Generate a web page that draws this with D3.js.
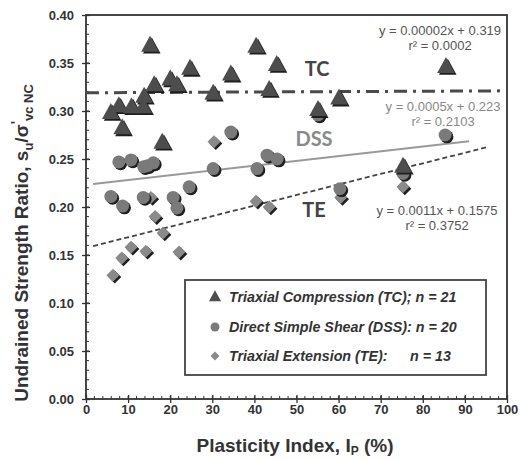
<!DOCTYPE html>
<html>
<head>
<meta charset="utf-8">
<script src="https://cdn.jsdelivr.net/npm/d3@7"></script>
<style>
  body { margin: 0; background: #fff; }
  text { font-family: Arial, "Liberation Sans", sans-serif; }
</style>
</head>
<body>
<svg id="chart" width="521" height="459"></svg>
<script>
// Triaxial compression (TC): plasticity index, strength ratio
const tcIP  = [5.9, 7.8, 8.6, 10.8, 13.6, 13.8, 15.2, 16.2, 18.1, 20.0, 21.6, 24.7, 30.2, 34.4, 40.4, 45.3, 43.5, 60.1, 85.5, 75.3, 55.1];
const tcSu  = [0.298, 0.305, 0.282, 0.304, 0.304, 0.315, 0.368, 0.327, 0.267, 0.333, 0.327, 0.344, 0.318, 0.338, 0.367, 0.348, 0.322, 0.313, 0.346, 0.242, 0.301];

// Direct simple shear (DSS)
const dssIP = [7.8, 10.7, 13.7, 14.6, 16.0, 5.9, 8.7, 13.6, 20.7, 21.6, 24.5, 30.2, 40.6, 43.0, 45.4, 34.4, 55.1, 60.3, 85.3, 75.3];
const dssSu = [0.247, 0.249, 0.242, 0.243, 0.246, 0.211, 0.201, 0.210, 0.210, 0.199, 0.221, 0.240, 0.240, 0.254, 0.250, 0.278, 0.296, 0.219, 0.275, 0.235];

// Triaxial extension (TE)
const teIP  = [6.4, 8.5, 10.7, 14.2, 15.4, 16.4, 18.3, 22.1, 30.4, 40.4, 43.5, 60.5, 75.3];
const teSu  = [0.129, 0.147, 0.158, 0.154, 0.210, 0.190, 0.173, 0.153, 0.268, 0.206, 0.200, 0.210, 0.221];

// Linear fits: slope, intercept, drawn x-extent
const fitNames  = ["TC", "DSS", "TE"];
const fitSlope  = [0.00002, 0.0005, 0.0011];
const fitInter  = [0.319, 0.223, 0.1575];
const fitFrom   = [0, 1.7, 1.7];
const fitTo     = [100, 91, 95];
const fitEq     = ["y = 0.00002x + 0.319", "y = 0.0005x + 0.223", "y = 0.0011x + 0.1575"];
const fitR2     = ["r² = 0.0002", "r² = 0.2103", "r² = 0.3752"];

const xTicks = [0, 10, 20, 30, 40, 50, 60, 70, 80, 90, 100];
const yTicks = [0, 0.05, 0.10, 0.15, 0.20, 0.25, 0.30, 0.35, 0.40];

const legendLabels = ["Triaxial Compression (TC); n = 21", "Direct Simple Shear (DSS): n = 20", "Triaxial Extension (TE):"];

const svg = d3.select("#chart");
const x = d3.scaleLinear().domain([0, 100]).range([86, 507]);
const y = d3.scaleLinear().domain([0, 0.4]).range([399, 15]);

const axisColor = "#333";

// minor ticks
const g = svg.append("g");
g.selectAll(".xminor").data(d3.range(0, 101, 2)).join("line")
  .attr("x1", d => x(d)).attr("x2", d => x(d))
  .attr("y1", y(0) - 3).attr("y2", y(0))
  .attr("stroke", axisColor).attr("stroke-width", 1);
g.selectAll(".yminor").data(d3.range(0, 41, 1).map(d => d / 100)).join("line")
  .attr("x1", x(0)).attr("x2", x(0) + 3)
  .attr("y1", d => y(d)).attr("y2", d => y(d))
  .attr("stroke", axisColor).attr("stroke-width", 1);

// axes
const xAxis = d3.axisBottom(x).tickValues(xTicks).tickSize(4).tickPadding(2).tickFormat(d3.format("d"));
const yAxis = d3.axisLeft(y).tickValues(yTicks).tickSize(4).tickPadding(8).tickFormat(d3.format(".2f"));

const gx = svg.append("g").attr("transform", `translate(0,${y(0)})`).call(xAxis);
const gy = svg.append("g").attr("transform", `translate(${x(0)},0)`).call(yAxis);
[gx, gy].forEach(a => {
  a.select(".domain").remove();
  a.selectAll(".tick line").attr("stroke", axisColor).attr("stroke-width", 1.3);
  a.selectAll("text").attr("fill", "#333").attr("font-size", 13).attr("font-weight", "bold");
});
// major ticks cross the axis
gx.selectAll(".tick line").attr("y1", -4).attr("y2", 4);
gy.selectAll(".tick line").attr("x1", -4).attr("x2", 4);

// frame
svg.append("rect")
  .attr("x", x(0)).attr("y", y(0.4))
  .attr("width", x(100) - x(0)).attr("height", y(0) - y(0.4))
  .attr("fill", "none").attr("stroke", axisColor).attr("stroke-width", 1.8);

// fit lines
const fitStyle = [
  { stroke: "#4a4a4a", width: 3, dash: "13,6,3,6" },
  { stroke: "#999", width: 2, dash: null },
  { stroke: "#444", width: 1.8, dash: "5,3" }
];
fitNames.forEach((n, i) => {
  svg.append("line")
    .attr("x1", x(fitFrom[i])).attr("y1", y(fitSlope[i] * fitFrom[i] + fitInter[i]))
    .attr("x2", x(fitTo[i])).attr("y2", y(fitSlope[i] * fitTo[i] + fitInter[i]))
    .attr("stroke", fitStyle[i].stroke).attr("stroke-width", fitStyle[i].width)
    .attr("stroke-dasharray", fitStyle[i].dash);
});

// marker shapes
const triPath = s => `M0,${-s * 0.62}L${s * 0.55},${s * 0.38}L${-s * 0.55},${s * 0.38}Z`;
const diaPath = s => `M0,${-s / 2}L${s / 2},0L0,${s / 2}L${-s / 2},0Z`;

function drawMarkers(ips, sus, kind, fill) {
  const grp = svg.append("g");
  const pts = ips.map((d, i) => [x(d), y(sus[i])]);
  // drop shadow then body
  [[1.8, "#1e1e1e"], [0, fill]].forEach(([off, col]) => {
    pts.forEach(([px, py]) => {
      if (kind === "circle") {
        grp.append("circle").attr("cx", px + off).attr("cy", py + off).attr("r", 6.5).attr("fill", col);
      } else if (kind === "tri") {
        grp.append("path").attr("d", triPath(16)).attr("transform", `translate(${px + off},${py + off})`).attr("fill", col);
      } else {
        grp.append("path").attr("d", diaPath(13)).attr("transform", `translate(${px + off},${py + off})`).attr("fill", col);
      }
    });
  });
}
drawMarkers(teIP, teSu, "dia", "#8a8a8a");
drawMarkers(dssIP, dssSu, "circle", "#7a7a7a");
drawMarkers(tcIP, tcSu, "tri", "#4d4d4d");

// series labels
const tagFont = "Lato, 'Open Sans', sans-serif";
svg.append("text").attr("x", 317).attr("y", 76).attr("text-anchor", "middle").style("font-family", tagFont)
  .attr("font-size", 20).attr("font-weight", "bold").attr("fill", "#444").text("TC");
svg.append("text").attr("x", 314).attr("y", 146).attr("text-anchor", "middle").style("font-family", tagFont)
  .attr("font-size", 20).attr("font-weight", "bold").attr("fill", "#8a8a8a").text("DSS");
svg.append("text").attr("x", 314).attr("y", 217).attr("text-anchor", "middle").style("font-family", tagFont)
  .attr("font-size", 20).attr("font-weight", "bold").attr("fill", "#444").text("TE");

// equations
const eqPos = [[440, 35], [443, 111], [437, 215]];
const eqCol = ["#555", "#888", "#555"];
fitNames.forEach((n, i) => {
  const t = svg.append("text").attr("text-anchor", "middle").attr("font-size", 13).attr("fill", eqCol[i]);
  t.append("tspan").attr("x", eqPos[i][0]).attr("y", eqPos[i][1]).text(fitEq[i]);
  t.append("tspan").attr("x", eqPos[i][0]).attr("y", eqPos[i][1] + 15).text(fitR2[i]);
});

// legend
const lg = svg.append("g");
lg.append("rect").attr("x", 185).attr("y", 280).attr("width", 301).attr("height", 95)
  .attr("fill", "#fff").attr("stroke", "#444").attr("stroke-width", 1.8);
const rowY = [297, 327, 356];
lg.append("path").attr("d", triPath(11)).attr("transform", `translate(215,${rowY[0]})`).attr("fill", "#4d4d4d");
lg.append("circle").attr("cx", 215).attr("cy", rowY[1]).attr("r", 4.5).attr("fill", "#7a7a7a");
lg.append("path").attr("d", diaPath(9)).attr("transform", `translate(215,${rowY[2]})`).attr("fill", "#8a8a8a");
legendLabels.forEach((l, i) => {
  lg.append("text").attr("x", 229).attr("y", rowY[i] + 5)
    .attr("font-size", 14.3).attr("font-weight", "bold").attr("font-style", "italic").attr("fill", "#333").text(l);
});
lg.append("text").attr("x", 410).attr("y", rowY[2] + 5)
  .attr("font-size", 14.3).attr("font-weight", "bold").attr("font-style", "italic").attr("fill", "#333").text("n = 13");

// axis titles
const xt = svg.append("text").attr("x", 295).attr("y", 452).attr("text-anchor", "middle")
  .attr("font-size", 19).attr("font-weight", "bold").attr("fill", "#333");
xt.append("tspan").text("Plasticity Index, I");
xt.append("tspan").attr("font-size", 12).attr("dy", 3).text("P");
xt.append("tspan").attr("dy", -3).text(" (%)");

const yt = svg.append("text").attr("transform", "translate(28,243) rotate(-90)").attr("text-anchor", "middle")
  .attr("font-size", 19).attr("font-weight", "bold").attr("fill", "#333");
yt.append("tspan").text("Undrained Strength Ratio,  s");
yt.append("tspan").attr("font-size", 13).attr("dy", 5).text("u");
yt.append("tspan").attr("dy", -5).text("/σ");
yt.append("tspan").attr("font-size", 14).attr("dy", -7).text("'");
yt.append("tspan").attr("font-size", 13).attr("dy", 12).text("vc NC");
</script>
</body>
</html>
